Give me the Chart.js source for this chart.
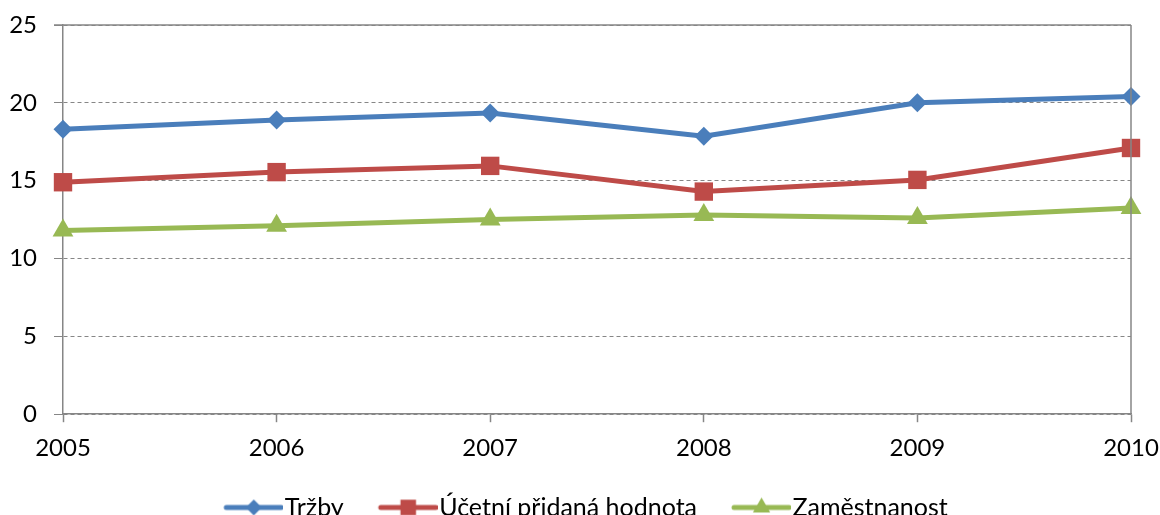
<!DOCTYPE html>
<html><head><meta charset="utf-8">
<script src="https://cdn.jsdelivr.net/npm/chart.js@4/dist/chart.umd.min.js"></script>
<style>html,body{margin:0;padding:0;overflow:hidden;background:#fff}#w{width:1160px;height:515px;overflow:hidden;position:relative}</style>
</head><body><div id="w"><canvas id="c" width="1160" height="530"></canvas></div>
<script>
const years = ['2005','2006','2007','2008','2009','2010'];
const trzby = [18.3, 18.9, 19.35, 17.85, 20.0, 20.4];
const pridana = [14.9, 15.55, 15.95, 14.3, 15.05, 17.1];
const zamestnanost = [11.8, 12.1, 12.5, 12.8, 12.6, 13.25];
const seriesNames = ['Tržby', 'Účetní přidaná hodnota', 'Zaměstnanost'];
const yMin = 0, yMax = 25, yStep = 5;

const FONT = 'Lato, "Open Sans", sans-serif';
const FS = 24;
const LFS = 25;
const GRID = '#868686';
const colors = ['#4A7EBB', '#BE4B48', '#98B954'];
const styles = ['rectRot', 'rect', 'triangle'];
const radii = [9.5, 13, 12];
const legendRadii = [8, 11, 10];

function legendIcon(i) {
  const cv = document.createElement('canvas');
  cv.width = 72; cv.height = 26;
  const ctx = cv.getContext('2d');
  ctx.strokeStyle = colors[i]; ctx.lineWidth = 5; ctx.lineCap = 'round';
  ctx.beginPath(); ctx.moveTo(15, 13); ctx.lineTo(70, 13); ctx.stroke();
  ctx.fillStyle = colors[i];
  Chart.helpers.drawPoint(ctx, {pointStyle: styles[i], radius: legendRadii[i], rotation: 0, borderWidth: 0}, 42.5, 13);
  return cv;
}
const icons = [0,1,2].map(legendIcon);

const frame = {
  id: 'frame',
  afterLayout(chart) {
    chart.legend.left += 5; chart.legend.right += 5;
  },
  afterDraw(chart) {
    const a = chart.chartArea, ctx = chart.ctx;
    ctx.save();
    ctx.strokeStyle = GRID; ctx.lineWidth = 1.5;
    ctx.beginPath();
    ctx.moveTo(a.left - 9, a.top); ctx.lineTo(a.right, a.top);
    ctx.moveTo(a.right, a.top); ctx.lineTo(a.right, a.bottom);
    ctx.stroke();
    ctx.restore();
  }
};

const datasets = [trzby, pridana, zamestnanost].map((d, i) => ({
  label: seriesNames[i],
  data: d,
  borderColor: colors[i],
  backgroundColor: colors[i],
  borderWidth: 5,
  pointStyle: styles[i],
  pointRadius: radii[i],
  pointHoverRadius: radii[i],
  pointBorderWidth: 0,
  tension: 0,
  clip: false
}));

new Chart(document.getElementById('c'), {
  type: 'line',
  data: { labels: years, datasets },
  plugins: [frame],
  options: {
    responsive: false,
    animation: false,
    layout: { padding: { left: 0, right: 0, top: 25, bottom: 0 } },
    plugins: {
      tooltip: { enabled: false },
      legend: {
        position: 'bottom',
        labels: {
          font: { family: FONT, size: LFS },
          color: '#000',
          usePointStyle: true,
          pointStyleWidth: 50,
          padding: 33,
          generateLabels(chart) {
            return chart.data.datasets.map((ds, i) => ({
              text: ds.label, pointStyle: icons[i], fillStyle: colors[i],
              strokeStyle: colors[i], lineWidth: 0, hidden: false, datasetIndex: i, fontColor: '#000'
            }));
          }
        }
      }
    },
    scales: {
      x: {
        type: 'category',
        offset: false,
        afterFit(scale) { scale.height -= 13; scale.paddingLeft = 0; scale.paddingRight = 29; },
        grid: { display: true, drawOnChartArea: false, drawTicks: true, tickLength: 8, tickColor: GRID, tickWidth: 1.5 },
        border: { display: true, color: GRID, width: 1.5 },
        ticks: { font: { family: FONT, size: FS }, color: '#000', padding: 12, maxRotation: 0, autoSkip: false }
      },
      y: {
        min: yMin, max: yMax,
        afterFit(scale) { scale.paddingTop = 0; scale.paddingBottom = 0; scale.width = 63; },
        grid: { color: GRID, lineWidth: 1, tickLength: 9, drawTicks: true },
        border: { display: true, color: GRID, width: 1.5, dash: [4, 3] },
        ticks: { stepSize: yStep, font: { family: FONT, size: FS }, color: '#000', padding: 17 }
      }
    }
  }
});
</script></body></html>
